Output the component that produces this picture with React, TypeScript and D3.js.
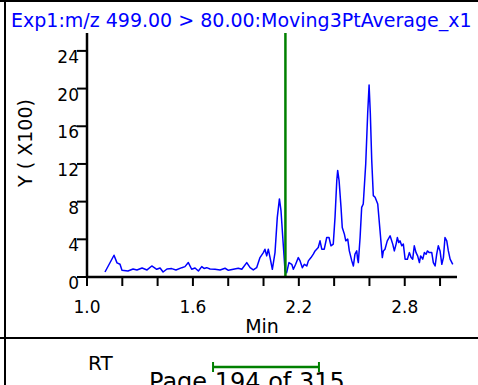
import React, { useEffect, useRef } from 'react';
import * as d3 from 'd3';

// Chromatogram trace (Y in units of x100)
const rtMin = [
  1.102, 1.153, 1.170, 1.187, 1.198, 1.232, 1.261, 1.283, 1.312, 1.340,
  1.367, 1.395, 1.414, 1.431, 1.453, 1.480, 1.504, 1.537, 1.555, 1.574,
  1.593, 1.612, 1.631, 1.650, 1.663, 1.678, 1.697, 1.725, 1.754, 1.782,
  1.801, 1.829, 1.857, 1.877, 1.905, 1.924, 1.942, 1.961, 1.980, 1.999,
  2.008, 2.018, 2.027, 2.037, 2.050, 2.065, 2.078, 2.090, 2.099, 2.109,
  2.122, 2.131, 2.144, 2.160, 2.169, 2.182, 2.197, 2.207, 2.220, 2.231,
  2.245, 2.254, 2.269, 2.282, 2.292, 2.301, 2.310, 2.320, 2.330, 2.344,
  2.358, 2.371, 2.382, 2.395, 2.405, 2.415, 2.420, 2.428, 2.439, 2.446,
  2.458, 2.466, 2.477, 2.486, 2.500, 2.509, 2.518, 2.528, 2.533, 2.537,
  2.547, 2.556, 2.565, 2.579, 2.590, 2.598, 2.605, 2.613, 2.622, 2.632,
  2.647, 2.660, 2.673, 2.679, 2.688, 2.701, 2.717, 2.732, 2.741, 2.751,
  2.758, 2.766, 2.773, 2.783, 2.792, 2.802, 2.815, 2.826, 2.836, 2.845,
  2.854, 2.864, 2.873, 2.883, 2.890, 2.902, 2.911, 2.921, 2.928, 2.939,
  2.953, 2.962, 2.972, 2.981, 2.990, 3.000, 3.010, 3.019, 3.028, 3.038,
  3.047, 3.057, 3.072,
];
const intensity = [
  0.53, 2.31, 1.50, 1.35, 0.71, 0.64, 0.85, 0.75, 0.96, 0.75,
  1.17, 0.82, 0.96, 0.53, 0.85, 0.89, 0.75, 0.99, 1.10, 1.53,
  0.82, 0.96, 0.64, 1.10, 0.91, 0.99, 0.85, 0.82, 0.75, 0.93,
  0.71, 0.82, 0.93, 0.82, 1.53, 0.99, 0.75, 0.99, 2.06, 2.59,
  2.95, 2.24, 2.95, 2.06, 0.82, 2.59, 6.33, 8.29, 7.04, 4.19,
  0.64, 0.46, 1.53, 1.35, 0.82, 1.35, 2.06, 1.71, 0.99, 1.35,
  1.17, 1.71, 2.06, 2.42, 2.77, 2.95, 3.13, 3.84, 2.95, 2.95,
  4.19, 4.19, 3.31, 3.49, 6.33, 10.24, 11.31, 10.24, 7.39, 5.26,
  4.55, 3.84, 4.02, 2.77, 1.71, 1.17, 2.42, 2.77, 1.89, 1.53,
  4.19, 7.39, 7.75, 12.02, 17.35, 20.37, 17.35, 12.37, 8.64, 8.46,
  7.75, 4.91, 2.06, 2.77, 2.95, 3.84, 4.37, 3.49, 2.77, 3.49,
  4.19, 3.66, 3.84, 3.31, 3.49, 1.89, 1.89, 2.59, 2.06, 1.89,
  3.31, 2.59, 2.24, 1.53, 2.24, 1.89, 2.59, 2.42, 2.77, 2.59,
  2.59, 1.53, 1.17, 2.42, 3.31, 2.77, 1.35, 2.06, 4.19, 3.84,
  2.77, 1.89, 1.35,
];

const yTicks = [0, 4, 8, 12, 16, 20, 24];
const xTicks = [1.0, 1.2, 1.4, 1.6, 1.8, 2.0, 2.2, 2.4, 2.6, 2.8, 3.0];
const xLabels = ['1.0', '1.6', '2.2', '2.8'];
const markerRT = 2.124;
const rtWindow = [1.714, 2.314];

const titleText = 'Exp1:m/z 499.00 > 80.00:Moving3PtAverage_x1';
const FONT = '"DejaVu Sans", sans-serif';

const ChromChart: React.FC = () => {
  const svgRef = useRef<SVGSVGElement>(null);

  useEffect(() => {
    if (!svgRef.current) return;
    const svg = d3.select(svgRef.current);
    svg.selectAll('*').remove();

    const x = d3.scaleLinear().domain([1.0, 3.096]).range([87, 457]);
    const y = d3.scaleLinear().domain([0, 25.9]).range([277, 33]);

    // frame
    svg.append('line').attr('x1', 0).attr('x2', 478).attr('y1', 1).attr('y2', 1)
      .attr('stroke', '#000').attr('stroke-width', 2);
    svg.append('line').attr('x1', 5).attr('x2', 5).attr('y1', 0).attr('y2', 385)
      .attr('stroke', '#000').attr('stroke-width', 2);
    svg.append('line').attr('x1', 0).attr('x2', 478).attr('y1', 338).attr('y2', 338)
      .attr('stroke', '#000').attr('stroke-width', 2);

    // title
    svg.append('text')
      .attr('x', 11).attr('y', 26.5)
      .attr('fill', '#0000ff')
      .attr('font-family', FONT).attr('font-size', '19px')
      .text(titleText);

    const g = svg.append('g');

    // trace
    const line = d3.line<number>()
      .x((_, i) => x(rtMin[i]))
      .y((d) => y(d));
    g.append('path')
      .datum(intensity)
      .attr('d', line)
      .attr('fill', 'none')
      .attr('stroke', '#0000ff')
      .attr('stroke-width', 1.5)
      .attr('stroke-linejoin', 'round');

    // marker
    g.append('line')
      .attr('x1', x(markerRT)).attr('x2', x(markerRT))
      .attr('y1', y(25.9)).attr('y2', y(0))
      .attr('stroke', '#008000').attr('stroke-width', 2.5);

    // axes
    g.append('line').attr('x1', 87).attr('x2', 87).attr('y1', y(25.9)).attr('y2', y(0) + 1)
      .attr('stroke', '#000').attr('stroke-width', 2.5);
    g.append('line').attr('x1', 86).attr('x2', x(3.096)).attr('y1', y(0)).attr('y2', y(0))
      .attr('stroke', '#000').attr('stroke-width', 2.5);

    g.selectAll('.ytick').data(yTicks).enter().append('line')
      .attr('x1', 77).attr('x2', 87)
      .attr('y1', (d) => y(d)).attr('y2', (d) => y(d))
      .attr('stroke', '#000').attr('stroke-width', 2);
    g.selectAll('.ylab').data(yTicks).enter().append('text')
      .attr('x', 79).attr('y', (d) => y(d) + 12)
      .attr('text-anchor', 'end')
      .attr('font-family', FONT).attr('font-size', '17px')
      .text((d) => String(d));

    g.selectAll('.xtick').data(xTicks).enter().append('line')
      .attr('x1', (d) => x(d)).attr('x2', (d) => x(d))
      .attr('y1', y(0)).attr('y2', y(0) + 9)
      .attr('stroke', '#000').attr('stroke-width', 2);
    g.selectAll('.xlab').data(xLabels).enter().append('text')
      .attr('x', (d) => x(+d)).attr('y', 312.5)
      .attr('text-anchor', 'middle')
      .attr('font-family', FONT).attr('font-size', '17px')
      .text((d) => d);

    g.append('text')
      .attr('x', 262).attr('y', 333)
      .attr('text-anchor', 'middle')
      .attr('font-family', FONT).attr('font-size', '19px')
      .text('Min');

    g.append('text')
      .attr('transform', 'translate(32,143) rotate(-90)')
      .attr('text-anchor', 'middle')
      .attr('font-family', FONT).attr('font-size', '19px')
      .text('Y ( X100)');

    // lower panel
    svg.append('text')
      .attr('x', 88).attr('y', 370)
      .attr('font-family', FONT).attr('font-size', '20px')
      .text('RT');
    svg.append('text')
      .attr('x', 149).attr('y', 389.5)
      .attr('font-family', FONT).attr('font-size', '24px')
      .text('Page 194 of 315');

    const bx0 = x(rtWindow[0]);
    const bx1 = x(rtWindow[1]);
    svg.append('line').attr('x1', bx0).attr('x2', bx1).attr('y1', 367).attr('y2', 367)
      .attr('stroke', '#008000').attr('stroke-width', 2.5);
    [bx0, bx1].forEach((bx) => {
      svg.append('line').attr('x1', bx).attr('x2', bx).attr('y1', 362).attr('y2', 372)
        .attr('stroke', '#008000').attr('stroke-width', 2);
    });
  }, []);

  return (
    <svg
      ref={svgRef}
      width={478}
      height={385}
      style={{ position: 'absolute', left: 0, top: 0, background: '#fff' }}
    />
  );
};

export default function App() {
  return <ChromChart />;
}
